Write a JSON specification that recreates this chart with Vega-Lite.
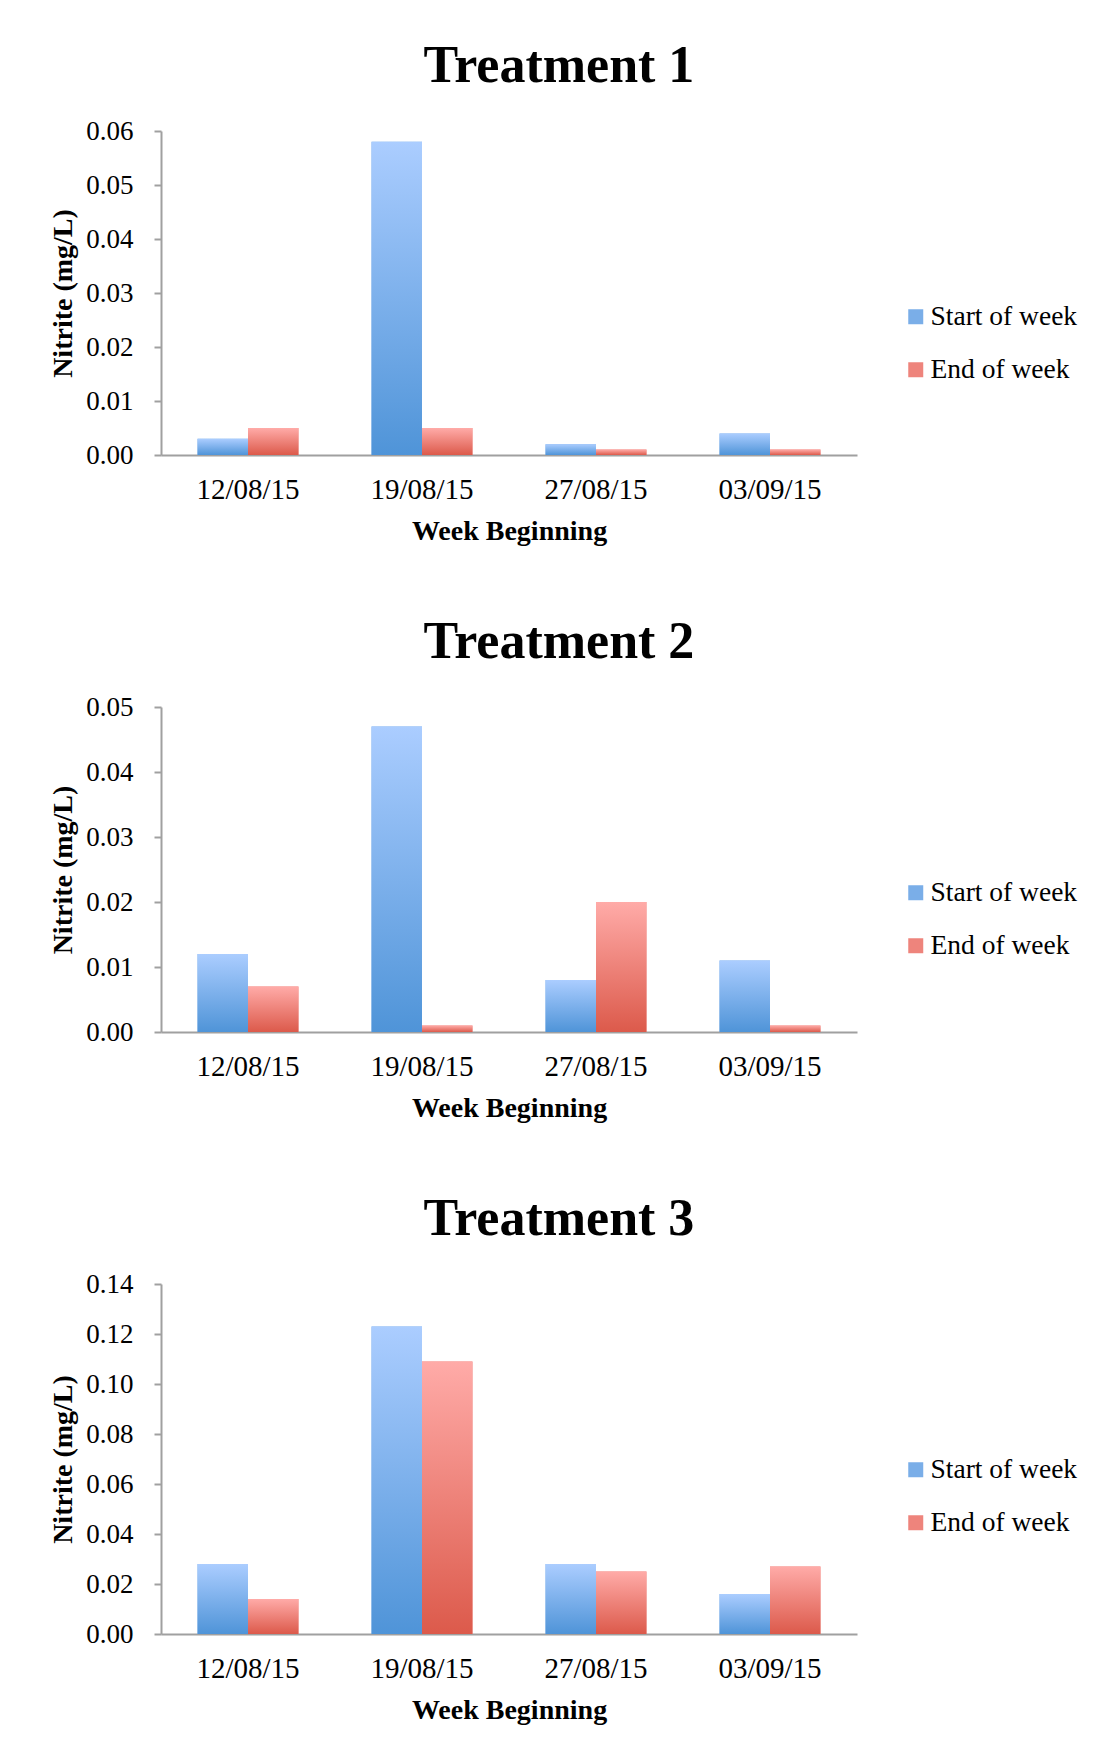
{
  "$schema": "https://vega.github.io/schema/vega-lite/v6.json",
  "background": "white",
  "padding": {"left": 49, "top": 40, "right": 5, "bottom": 5},
  "spacing": 71,
  "datasets": {
    "nitrite": [
      {"treatment": "Treatment 1", "week": "12/08/15", "phase": "Start of week", "nitrite": 0.003},
      {"treatment": "Treatment 1", "week": "12/08/15", "phase": "End of week", "nitrite": 0.005},
      {"treatment": "Treatment 1", "week": "19/08/15", "phase": "Start of week", "nitrite": 0.058},
      {"treatment": "Treatment 1", "week": "19/08/15", "phase": "End of week", "nitrite": 0.005},
      {"treatment": "Treatment 1", "week": "27/08/15", "phase": "Start of week", "nitrite": 0.002},
      {"treatment": "Treatment 1", "week": "27/08/15", "phase": "End of week", "nitrite": 0.001},
      {"treatment": "Treatment 1", "week": "03/09/15", "phase": "Start of week", "nitrite": 0.004},
      {"treatment": "Treatment 1", "week": "03/09/15", "phase": "End of week", "nitrite": 0.001},
      {"treatment": "Treatment 2", "week": "12/08/15", "phase": "Start of week", "nitrite": 0.012},
      {"treatment": "Treatment 2", "week": "12/08/15", "phase": "End of week", "nitrite": 0.007},
      {"treatment": "Treatment 2", "week": "19/08/15", "phase": "Start of week", "nitrite": 0.047},
      {"treatment": "Treatment 2", "week": "19/08/15", "phase": "End of week", "nitrite": 0.001},
      {"treatment": "Treatment 2", "week": "27/08/15", "phase": "Start of week", "nitrite": 0.008},
      {"treatment": "Treatment 2", "week": "27/08/15", "phase": "End of week", "nitrite": 0.020},
      {"treatment": "Treatment 2", "week": "03/09/15", "phase": "Start of week", "nitrite": 0.011},
      {"treatment": "Treatment 2", "week": "03/09/15", "phase": "End of week", "nitrite": 0.001},
      {"treatment": "Treatment 3", "week": "12/08/15", "phase": "Start of week", "nitrite": 0.028},
      {"treatment": "Treatment 3", "week": "12/08/15", "phase": "End of week", "nitrite": 0.014},
      {"treatment": "Treatment 3", "week": "19/08/15", "phase": "Start of week", "nitrite": 0.123},
      {"treatment": "Treatment 3", "week": "19/08/15", "phase": "End of week", "nitrite": 0.109},
      {"treatment": "Treatment 3", "week": "27/08/15", "phase": "Start of week", "nitrite": 0.028},
      {"treatment": "Treatment 3", "week": "27/08/15", "phase": "End of week", "nitrite": 0.025},
      {"treatment": "Treatment 3", "week": "03/09/15", "phase": "Start of week", "nitrite": 0.016},
      {"treatment": "Treatment 3", "week": "03/09/15", "phase": "End of week", "nitrite": 0.027}
    ]
  },
  "vconcat": [
    {
      "width": 696, "height": 324,
      "title": {"text": "Treatment 1"},
      "data": {"name": "nitrite"},
      "transform": [{"filter": "datum.treatment === 'Treatment 1'"}],
      "encoding": {
        "x": {"field": "week", "type": "nominal", "sort": ["12/08/15", "19/08/15", "27/08/15", "03/09/15"], "scale": {"paddingInner": 0.42, "paddingOuter": 0.21}, "axis": {"title": "Week Beginning"}},
        "xOffset": {"field": "phase", "type": "nominal", "scale": {"domain": ["Start of week", "End of week"]}},
        "y": {"field": "nitrite", "type": "quantitative", "scale": {"domain": [0, 0.06], "nice": false}, "axis": {"title": "Nitrite (mg/L)", "values": [0, 0.01, 0.02, 0.03, 0.04, 0.05, 0.06], "format": ".2f"}}
      },
      "layer": [
        {"mark": {"type": "bar"}, "encoding": {"color": {"field": "phase", "type": "nominal", "title": null, "scale": {"domain": ["Start of week", "End of week"], "range": ["#7aaee8", "#ee847c"]}}}},
        {"transform": [{"filter": "datum.phase === 'Start of week'"}], "mark": {"type": "bar", "color": {"gradient": "linear", "x1": 0, "y1": 0, "x2": 0, "y2": 1, "stops": [{"offset": 0, "color": "#abcdff"}, {"offset": 1, "color": "#4f94d8"}]}}},
        {"transform": [{"filter": "datum.phase === 'End of week'"}], "mark": {"type": "bar", "color": {"gradient": "linear", "x1": 0, "y1": 0, "x2": 0, "y2": 1, "stops": [{"offset": 0, "color": "#ffaba8"}, {"offset": 1, "color": "#dc5a4b"}]}}}
      ]
    },
    {
      "width": 696, "height": 325,
      "title": {"text": "Treatment 2"},
      "data": {"name": "nitrite"},
      "transform": [{"filter": "datum.treatment === 'Treatment 2'"}],
      "encoding": {
        "x": {"field": "week", "type": "nominal", "sort": ["12/08/15", "19/08/15", "27/08/15", "03/09/15"], "scale": {"paddingInner": 0.42, "paddingOuter": 0.21}, "axis": {"title": "Week Beginning"}},
        "xOffset": {"field": "phase", "type": "nominal", "scale": {"domain": ["Start of week", "End of week"]}},
        "y": {"field": "nitrite", "type": "quantitative", "scale": {"domain": [0, 0.05], "nice": false}, "axis": {"title": "Nitrite (mg/L)", "values": [0, 0.01, 0.02, 0.03, 0.04, 0.05], "format": ".2f"}}
      },
      "layer": [
        {"mark": {"type": "bar"}, "encoding": {"color": {"field": "phase", "type": "nominal", "title": null, "scale": {"domain": ["Start of week", "End of week"], "range": ["#7aaee8", "#ee847c"]}}}},
        {"transform": [{"filter": "datum.phase === 'Start of week'"}], "mark": {"type": "bar", "color": {"gradient": "linear", "x1": 0, "y1": 0, "x2": 0, "y2": 1, "stops": [{"offset": 0, "color": "#abcdff"}, {"offset": 1, "color": "#4f94d8"}]}}},
        {"transform": [{"filter": "datum.phase === 'End of week'"}], "mark": {"type": "bar", "color": {"gradient": "linear", "x1": 0, "y1": 0, "x2": 0, "y2": 1, "stops": [{"offset": 0, "color": "#ffaba8"}, {"offset": 1, "color": "#dc5a4b"}]}}}
      ]
    },
    {
      "width": 696, "height": 350,
      "title": {"text": "Treatment 3"},
      "data": {"name": "nitrite"},
      "transform": [{"filter": "datum.treatment === 'Treatment 3'"}],
      "encoding": {
        "x": {"field": "week", "type": "nominal", "sort": ["12/08/15", "19/08/15", "27/08/15", "03/09/15"], "scale": {"paddingInner": 0.42, "paddingOuter": 0.21}, "axis": {"title": "Week Beginning"}},
        "xOffset": {"field": "phase", "type": "nominal", "scale": {"domain": ["Start of week", "End of week"]}},
        "y": {"field": "nitrite", "type": "quantitative", "scale": {"domain": [0, 0.14], "nice": false}, "axis": {"title": "Nitrite (mg/L)", "values": [0, 0.02, 0.04, 0.06, 0.08, 0.10, 0.12, 0.14], "format": ".2f"}}
      },
      "layer": [
        {"mark": {"type": "bar"}, "encoding": {"color": {"field": "phase", "type": "nominal", "title": null, "scale": {"domain": ["Start of week", "End of week"], "range": ["#7aaee8", "#ee847c"]}}}},
        {"transform": [{"filter": "datum.phase === 'Start of week'"}], "mark": {"type": "bar", "color": {"gradient": "linear", "x1": 0, "y1": 0, "x2": 0, "y2": 1, "stops": [{"offset": 0, "color": "#abcdff"}, {"offset": 1, "color": "#4f94d8"}]}}},
        {"transform": [{"filter": "datum.phase === 'End of week'"}], "mark": {"type": "bar", "color": {"gradient": "linear", "x1": 0, "y1": 0, "x2": 0, "y2": 1, "stops": [{"offset": 0, "color": "#ffaba8"}, {"offset": 1, "color": "#dc5a4b"}]}}}
      ]
    }
  ],
  "resolve": {"scale": {"color": "independent"}, "legend": {"color": "independent"}},
  "config": {
    "font": "Liberation Serif",
    "view": {"stroke": null},
    "title": {"font": "Liberation Serif", "fontSize": 52, "fontWeight": "bold", "color": "black", "anchor": "middle", "frame": "bounds", "offset": 24, "dx": -5},
    "axis": {
      "domainColor": "#a0a0a0", "domainWidth": 2,
      "tickColor": "#a0a0a0", "tickWidth": 2,
      "labelFont": "Liberation Serif", "labelColor": "black",
      "titleFont": "Liberation Serif", "titleColor": "black", "titleFontWeight": "bold",
      "grid": false
    },
    "axisX": {"ticks": false, "labelAngle": 0, "labelFontSize": 29, "labelPadding": 20, "titleFontSize": 28, "titlePadding": 13},
    "axisY": {"tickSize": 7, "labelFontSize": 27, "labelPadding": 21, "titleFontSize": 28, "titlePadding": 8},
    "legend": {
      "orient": "none", "legendX": 741, "legendY": 172,
      "symbolType": "square", "symbolSize": 225, "symbolStrokeWidth": 0,
      "labelFont": "Liberation Serif", "labelFontSize": 27.5, "labelColor": "black",
      "labelOffset": 1, "rowPadding": 24
    }
  }
}
